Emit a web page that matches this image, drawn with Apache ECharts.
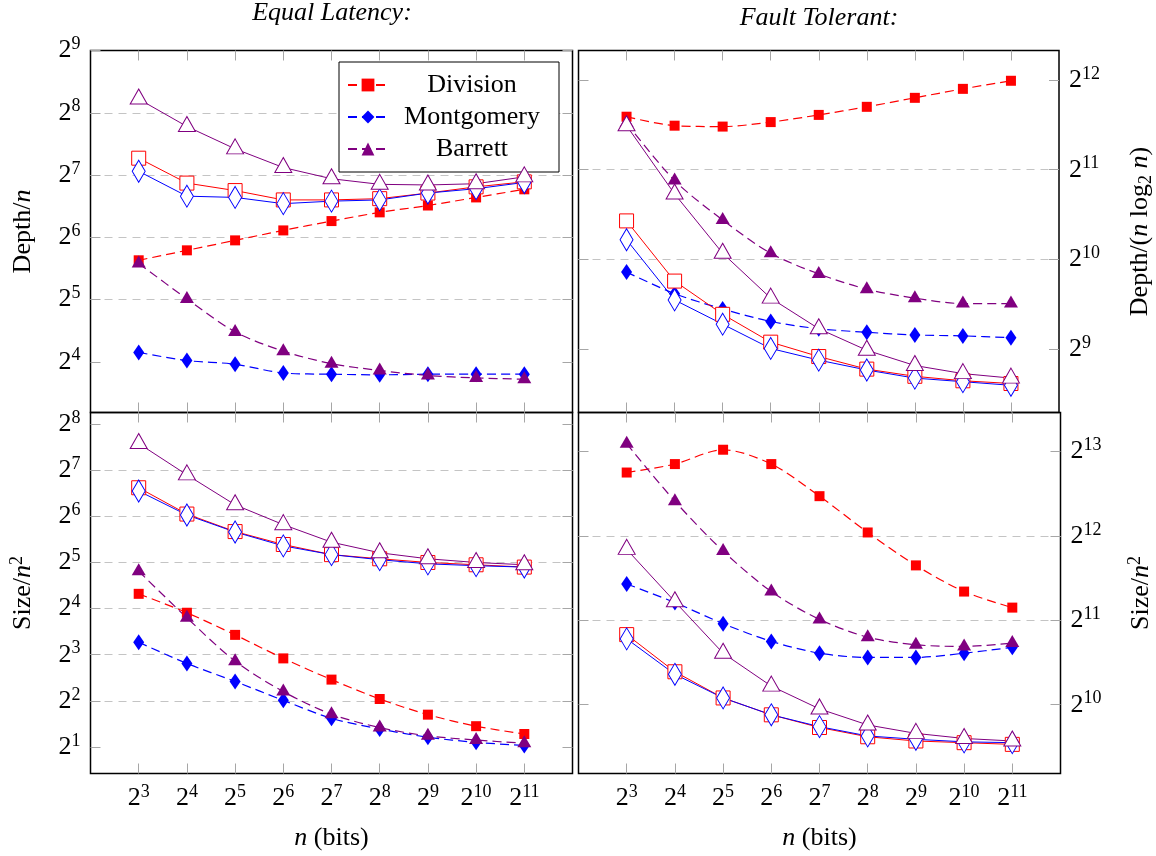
<!DOCTYPE html>
<html>
<head>
<meta charset="utf-8">
<script src="https://cdn.jsdelivr.net/npm/echarts@6/dist/echarts.min.js"></script>
<style>html,body{margin:0;padding:0;background:#fff}#c{width:1156px;height:856px}</style>
</head>
<body>
<div id="c"></div>
<script>
// x: exponent k of n = 2^k (bits)
const xExp = [3, 4, 5, 6, 7, 8, 9, 10, 11];

// All y values are log2 of the plotted quantity (axes are labelled 2^k)
// Equal Latency: Depth/n
const elDepthDivision    = [5.63, 5.79, 5.95, 6.11, 6.26, 6.40, 6.51, 6.64, 6.77];
const elDepthMontgomery  = [4.15, 4.02, 3.96, 3.82, 3.80, 3.79, 3.80, 3.80, 3.80];
const elDepthBarrett     = [5.58, 5.01, 4.48, 4.17, 3.97, 3.86, 3.78, 3.74, 3.72];
const elDepthDivision2   = [7.27, 6.87, 6.75, 6.60, 6.60, 6.62, 6.71, 6.81, 6.89];
const elDepthMontgomery2 = [7.06, 6.66, 6.64, 6.54, 6.58, 6.60, 6.71, 6.78, 6.88];
const elDepthBarrett2    = [8.22, 7.78, 7.42, 7.12, 6.94, 6.85, 6.84, 6.86, 6.97];

// Fault Tolerant: Depth/(n log2 n)
const ftDepthDivision    = [11.59, 11.49, 11.48, 11.53, 11.61, 11.70, 11.80, 11.90, 11.99];
const ftDepthMontgomery  = [9.86, 9.62, 9.45, 9.31, 9.23, 9.19, 9.16, 9.15, 9.13];
const ftDepthBarrett     = [11.52, 10.88, 10.44, 10.07, 9.84, 9.67, 9.57, 9.51, 9.51];
const ftDepthDivision2   = [10.43, 9.76, 9.39, 9.08, 8.92, 8.78, 8.70, 8.65, 8.62];
const ftDepthMontgomery2 = [10.22, 9.55, 9.28, 9.01, 8.88, 8.77, 8.68, 8.64, 8.60];
const ftDepthBarrett2    = [11.49, 10.73, 10.07, 9.57, 9.23, 8.99, 8.82, 8.73, 8.68];

// Equal Latency: Size/n^2
const elSizeDivision    = [4.32, 3.91, 3.43, 2.92, 2.46, 2.04, 1.70, 1.45, 1.28];
const elSizeMontgomery  = [3.27, 2.81, 2.42, 2.01, 1.62, 1.39, 1.21, 1.10, 1.03];
const elSizeBarrett     = [4.81, 3.80, 2.86, 2.20, 1.71, 1.42, 1.24, 1.15, 1.08];
const elSizeDivision2   = [6.62, 6.05, 5.67, 5.39, 5.17, 5.08, 5.00, 4.95, 4.90];
const elSizeMontgomery2 = [6.55, 6.03, 5.66, 5.36, 5.17, 5.06, 4.97, 4.93, 4.90];
const elSizeBarrett2    = [7.58, 6.90, 6.25, 5.82, 5.44, 5.21, 5.08, 5.00, 4.95];

// Fault Tolerant: Size/n^2
const ftSizeDivision    = [12.75, 12.85, 13.02, 12.85, 12.47, 12.04, 11.65, 11.34, 11.15];
const ftSizeMontgomery  = [11.43, 11.21, 10.96, 10.75, 10.61, 10.56, 10.56, 10.61, 10.68];
const ftSizeBarrett     = [13.09, 12.41, 11.82, 11.34, 11.01, 10.80, 10.71, 10.69, 10.73];
const ftSizeDivision2   = [10.83, 10.39, 10.08, 9.88, 9.73, 9.62, 9.57, 9.55, 9.53];
const ftSizeMontgomery2 = [10.78, 10.36, 10.08, 9.88, 9.74, 9.63, 9.59, 9.56, 9.55];
const ftSizeBarrett2    = [11.84, 11.22, 10.61, 10.22, 9.95, 9.76, 9.66, 9.60, 9.57];

// Tick labels (exponents of 2)
const xTickExp = [3, 4, 5, 6, 7, 8, 9, 10, 11];
const yTickExp = [[4, 5, 6, 7, 8, 9], [9, 10, 11, 12], [1, 2, 3, 4, 5, 6, 7, 8], [10, 11, 12, 13]];

const legendNames = ['Division', 'Montgomery', 'Barrett'];
const panelTitles = ['Equal Latency:', 'Fault Tolerant:'];
const xName = '{i|n}{t| (bits)}';
const yNames = ['{t|Depth/}{i|n}', '{t|Depth/(}{i|n}{t| log}{sub|2}{t| }{i|n}{t|)}', '{t|Size/}{i|n}{sup|2}', '{t|Size/}{i|n}{sup|2}'];

const panelData = [
  [elDepthDivision, elDepthMontgomery, elDepthBarrett, elDepthDivision2, elDepthMontgomery2, elDepthBarrett2],
  [ftDepthDivision, ftDepthMontgomery, ftDepthBarrett, ftDepthDivision2, ftDepthMontgomery2, ftDepthBarrett2],
  [elSizeDivision, elSizeMontgomery, elSizeBarrett, elSizeDivision2, elSizeMontgomery2, elSizeBarrett2],
  [ftSizeDivision, ftSizeMontgomery, ftSizeBarrett, ftSizeDivision2, ftSizeMontgomery2, ftSizeBarrett2]
];

const FONT = 'Liberation Serif';
const COLORS = ['#ff0000', '#0000ff', '#800080'];
const TICK = '#a6a6a6';

const grids = [
  {left: 90.5, top: 50.5, width: 482, height: 362},
  {left: 578.5, top: 50.5, width: 482, height: 362},
  {left: 90.5, top: 412.5, width: 482, height: 361},
  {left: 578.5, top: 412.5, width: 482, height: 361}
];
const yRanges = [[3.185, 9], [8.297, 12.327], [0.424, 8.252], [9.185, 13.461]];
const ySide = ['left', 'right', 'left', 'right'];

const tickRich = {
  b: {fontFamily: FONT, fontSize: 26, lineHeight: 30, color: '#000'},
  s: {fontFamily: FONT, fontSize: 18, lineHeight: 18, verticalAlign: 'top', color: '#000'}
};
const nameRich = {
  t: {fontFamily: FONT, fontSize: 26, lineHeight: 30, color: '#000'},
  i: {fontFamily: FONT, fontSize: 26, lineHeight: 30, fontStyle: 'italic', color: '#000'},
  sup: {fontFamily: FONT, fontSize: 18, lineHeight: 16, verticalAlign: 'top', color: '#000'},
  sub: {fontFamily: FONT, fontSize: 18, lineHeight: 16, verticalAlign: 'bottom', color: '#000'}
};
function powLabel(list) {
  return function (v) {
    const k = Math.round(v);
    if (Math.abs(v - k) > 1e-6 || list.indexOf(k) < 0) return '';
    return '{b|2}{s|' + k + '}';
  };
}
const tickStyle = {color: TICK, width: 1};

const xAxes = [], yAxes = [];
for (let i = 0; i < 4; i++) {
  const bottomRow = i >= 2;
  xAxes.push({
    type: 'value', gridIndex: i, position: 'bottom', min: 2, max: 12, interval: 1,
    axisLine: {show: false}, splitLine: {show: false},
    axisTick: {show: true, inside: true, length: 10, lineStyle: tickStyle, customValues: xTickExp},
    axisLabel: bottomRow ? {show: true, margin: 10, formatter: powLabel(xTickExp), rich: tickRich, customValues: xTickExp} : {show: false},
    name: bottomRow ? xName : '', nameLocation: 'middle', nameGap: 50,
    nameTextStyle: {rich: nameRich, fontFamily: FONT, fontSize: 26, color: '#000'}
  });
}
for (let i = 0; i < 4; i++) {
  xAxes.push({
    type: 'value', gridIndex: i, position: 'top', min: 2, max: 12, interval: 1,
    axisLine: {show: false}, splitLine: {show: false}, axisLabel: {show: false},
    axisTick: {show: true, inside: true, length: 10, lineStyle: tickStyle, customValues: xTickExp}
  });
}
for (let i = 0; i < 4; i++) {
  yAxes.push({
    type: 'value', gridIndex: i, position: ySide[i], min: yRanges[i][0], max: yRanges[i][1],
    minInterval: 1, maxInterval: 1, splitNumber: 5,
    axisLine: {show: false},
    axisTick: {show: true, inside: true, length: 10, lineStyle: tickStyle, customValues: yTickExp[i]},
    splitLine: {show: true, showMinLine: false, showMaxLine: false, lineStyle: {color: '#c4c4c4', width: 1, type: [8, 6]}},
    axisLabel: {show: true, margin: 10, formatter: powLabel(yTickExp[i]), rich: tickRich, customValues: yTickExp[i]},
    name: yNames[i], nameLocation: 'middle', nameRotate: 90, nameGap: ySide[i] === 'left' ? 52 : 66,
    nameTextStyle: {rich: nameRich, fontFamily: FONT, fontSize: 26, color: '#000'}
  });
}
for (let i = 0; i < 4; i++) {
  yAxes.push({
    type: 'value', gridIndex: i, position: ySide[i] === 'left' ? 'right' : 'left',
    min: yRanges[i][0], max: yRanges[i][1], minInterval: 1, maxInterval: 1, splitNumber: 5,
    axisLine: {show: false}, splitLine: {show: false}, axisLabel: {show: false},
    axisTick: {show: true, inside: true, length: 10, lineStyle: tickStyle, customValues: yTickExp[i]}
  });
}

const filledSym = [
  {symbol: 'rect', size: [10, 10], offset: [0, 0]},
  {symbol: 'diamond', size: [11, 16], offset: [0, 0]},
  {symbol: 'triangle', size: [14, 12], offset: [0, -2]}
];
const openSym = [
  {symbol: 'rect', size: [14, 14], offset: [0, 0]},
  {symbol: 'diamond', size: [13, 22], offset: [0, 0]},
  {symbol: 'triangle', size: [17, 15], offset: [0, -2.5]}
];

const series = [];
for (let p = 0; p < 4; p++) {
  for (let s = 0; s < 3; s++) {
    series.push({
      type: 'line', name: legendNames[s], xAxisIndex: p, yAxisIndex: p,
      data: xExp.map((x, j) => [x, panelData[p][s][j]]),
      smooth: 0.3, symbol: filledSym[s].symbol, symbolSize: filledSym[s].size, symbolOffset: filledSym[s].offset,
      showAllSymbol: true, z: 3,
      lineStyle: {color: COLORS[s], width: 1.2, type: [9, 5]},
      itemStyle: {color: COLORS[s], borderWidth: 0}
    });
  }
  for (let s = 0; s < 3; s++) {
    series.push({
      type: 'line', name: legendNames[s] + ' (solid)', xAxisIndex: p, yAxisIndex: p,
      data: xExp.map((x, j) => [x, panelData[p][s + 3][j]]),
      smooth: false, symbol: openSym[s].symbol, symbolSize: openSym[s].size, symbolOffset: openSym[s].offset,
      showAllSymbol: true, z: 4,
      lineStyle: {color: COLORS[s], width: 1, type: 'solid'},
      itemStyle: {color: '#ffffff', borderColor: COLORS[s], borderWidth: 1}
    });
  }
}

const chart = echarts.init(document.getElementById('c'), null, {renderer: 'canvas'});
chart.setOption({
  animation: false,
  backgroundColor: '#ffffff',
  grid: grids.map(g => Object.assign({show: true, borderColor: '#000', borderWidth: 1.5, backgroundColor: 'transparent', containLabel: false}, g)),
  xAxis: xAxes,
  yAxis: yAxes,
  legend: {
    data: legendNames, orient: 'vertical', left: 339, top: 62,
    selectedMode: false, backgroundColor: '#fff', borderColor: '#000', borderWidth: 1,
    padding: [10, 8, 10, 8], itemWidth: 40, itemHeight: 16, itemGap: 6,
    formatter: name => '{c|' + name + '}',
    textStyle: {fontFamily: FONT, fontSize: 26, color: '#000',
      rich: {c: {fontFamily: FONT, fontSize: 26, lineHeight: 30, width: 158, align: 'center', color: '#000'}}}
  },
  graphic: [
    {type: 'text', x: 332, y: 13, style: {text: panelTitles[0], fontFamily: FONT, fontSize: 26, fontStyle: 'italic', fill: '#000', align: 'center', verticalAlign: 'middle'}},
    {type: 'text', x: 819, y: 18, style: {text: panelTitles[1], fontFamily: FONT, fontSize: 26, fontStyle: 'italic', fill: '#000', align: 'center', verticalAlign: 'middle'}}
  ],
  series: series
});
</script>
</body>
</html>
